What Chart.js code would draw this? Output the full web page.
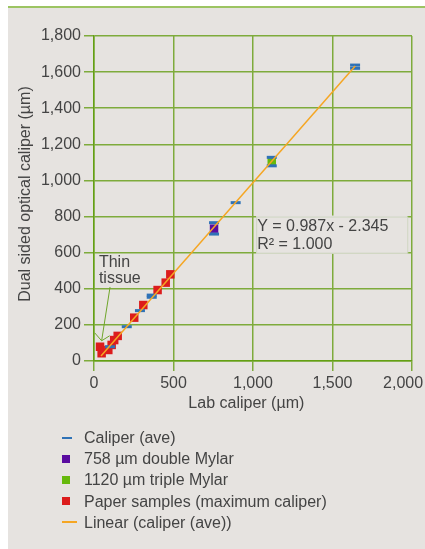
<!DOCTYPE html>
<html>
<head>
<meta charset="utf-8">
<script src="https://cdn.jsdelivr.net/npm/chart.js@4.4.0/dist/chart.umd.min.js"></script>
<style>
  body { margin: 0; background: #fff; font-family: "Liberation Sans", Arial, sans-serif; }
  #panel { position: absolute; left: 8px; top: 6px; width: 417px; height: 541px; background: #e6e3e0; border-top: 2px solid #9cc462; }
  #grafico { position: absolute; left: 0; top: 0; }
  #leyenda { position: absolute; left: 54px; top: 419px; margin: 0; padding: 0; list-style: none; }
  #leyenda li { height: 21.2px; line-height: 21.2px; font-size: 16px; color: #444; position: relative; padding-left: 22px; white-space: nowrap; }
  #leyenda .mk { position: absolute; left: 0; top: 50%; }
</style>
</head>
<body>
<div id="panel">
  <canvas id="grafico" width="417" height="541"></canvas>
  <ul id="leyenda"></ul>
</div>
<script>
// tick values
const xTicks = [0, 500, 1000, 1500, 2000];
const yTicks = [0, 200, 400, 600, 800, 1000, 1200, 1400, 1600, 1800];

// Caliper (ave) dashes
const caliperX = [101, 206, 289, 363, 363, 755, 755, 891, 1118, 1118, 1642, 1642];
const caliperY = [79, 190, 279, 365, 353, 766, 703, 877, 1128, 1081, 1639, 1621];

// Mylar references
const mylar758X = [755];
const mylar758Y = [733];
const mylar1120X = [1118];
const mylar1120Y = [1104];

// Paper samples (maximum caliper)
const paperX = [38, 48, 90, 111, 127, 149, 253, 310, 400, 451, 480];
const paperY = [79, 43, 61, 89, 116, 139, 240, 310, 393, 434, 480];

// Linear (caliper (ave)) trend ends
const trendX = [44, 1643];
const trendY = [28, 1634];

const ecuacion = ["Y = 0.987x - 2.345", "R\u00b2 = 1.000"];
const nota = ["Thin", "tissue"];

const colores = {
  caliper: "#2f72b6",
  mylar758: "#5a0ca0",
  mylar1120: "#66b90c",
  paper: "#dc1c1c",
  trend: "#f5a623",
  grid: "#7eab3c",
  texto: "#444",
  fondo: "#e6e3e0",
};

const fuente = { family: "'Liberation Sans', Arial, sans-serif", size: 16 };

function puntos(xs, ys) {
  return xs.map((x, i) => ({ x: x, y: ys[i] }));
}

// equation box + thin tissue arrow, placed in data units
const cajaEc = { x0: 1020, x1: 1970, y0: 600, y1: 800 };
const notaPos = { x: 31, y: 545, y2: 455 };
const flecha = { x0: 101, y0: 410, x1: 48, y1: 112 };

const extras = {
  id: "extras",
  beforeDatasetsDraw(chart) {
    const ctx = chart.ctx;
    const sx = chart.scales.x, sy = chart.scales.y;
    ctx.save();
    // equation box
    const bx0 = sx.getPixelForValue(cajaEc.x0), bx1 = sx.getPixelForValue(cajaEc.x1);
    const by0 = sy.getPixelForValue(cajaEc.y1), by1 = sy.getPixelForValue(cajaEc.y0);
    ctx.fillStyle = colores.fondo;
    ctx.fillRect(bx0, by0 - 1, bx1 - bx0, by1 - by0 + 2);
    ctx.strokeStyle = "#cfd6c2";
    ctx.lineWidth = 1;
    ctx.strokeRect(bx0 + 0.5, by0 + 0.5, bx1 - bx0, by1 - by0);
    ctx.fillStyle = colores.texto;
    ctx.font = "16px 'Liberation Sans', Arial, sans-serif";
    ctx.textBaseline = "middle";
    ctx.textAlign = "left";
    ctx.fillText(ecuacion[0], bx0 + 1, sy.getPixelForValue(744));
    ctx.fillText(ecuacion[1], bx0 + 1, sy.getPixelForValue(642));

    // thin tissue note
    const nx = sx.getPixelForValue(notaPos.x);
    ctx.fillText(nota[0], nx, sy.getPixelForValue(notaPos.y));
    ctx.fillText(nota[1], nx, sy.getPixelForValue(notaPos.y2));
    const ax0 = sx.getPixelForValue(flecha.x0), ay0 = sy.getPixelForValue(flecha.y0);
    const ax1 = sx.getPixelForValue(flecha.x1), ay1 = sy.getPixelForValue(flecha.y1);
    ctx.strokeStyle = "#6fa52a";
    ctx.lineWidth = 1;
    ctx.beginPath();
    ctx.moveTo(ax0, ay0);
    ctx.lineTo(ax1, ay1);
    ctx.moveTo(ax1 - 7, ay1 - 8);
    ctx.lineTo(ax1, ay1);
    ctx.lineTo(ax1 + 8, ay1 - 5);
    ctx.stroke();
    ctx.restore();
  },
};

const config = {
  type: "scatter",
  data: {
    datasets: [
      {
        label: "Caliper (ave)",
        data: puntos(caliperX, caliperY),
        pointStyle: "line",
        pointRadius: 5,
        borderWidth: 3,
        borderColor: colores.caliper,
        backgroundColor: colores.caliper,
        order: 1,
      },
      {
        label: "758 \u00b5m double Mylar",
        data: puntos(mylar758X, mylar758Y),
        pointStyle: "rect",
        pointRadius: 6,
        borderWidth: 0,
        backgroundColor: colores.mylar758,
        order: 2,
      },
      {
        label: "1120 \u00b5m triple Mylar",
        data: puntos(mylar1120X, mylar1120Y),
        pointStyle: "rect",
        pointRadius: 6,
        borderWidth: 0,
        backgroundColor: colores.mylar1120,
        order: 3,
      },
      {
        label: "Paper samples (maximum caliper)",
        data: puntos(paperX, paperY),
        pointStyle: "rect",
        pointRadius: 6,
        borderWidth: 0,
        backgroundColor: colores.paper,
        order: 4,
      },
      {
        type: "line",
        label: "Linear (caliper (ave))",
        data: puntos(trendX, trendY),
        borderColor: colores.trend,
        borderWidth: 1.5,
        pointRadius: 0,
        fill: false,
        order: 0,
      },
    ],
  },
  options: {
    responsive: false,
    animation: false,
    layout: { padding: { top: 28, right: 13, bottom: 128, left: 0 } },
    plugins: {
      legend: { display: false },
      tooltip: { enabled: false },
    },
    scales: {
      x: {
        type: "linear",
        min: 0,
        max: 2000,
        afterBuildTicks: (s) => { s.ticks = xTicks.map((v) => ({ value: v })); },
        afterFit: (s) => { s.height = 60; s.paddingLeft = 0; s.paddingRight = 0; },
        ticks: {
          font: fuente,
          color: colores.texto,
          padding: 3,
          maxRotation: 0,
          callback: (v) => (v === 2000 ? v.toLocaleString("en-US") + "    " : v.toLocaleString("en-US")),
        },
        grid: { color: colores.grid, lineWidth: 1.5, tickLength: 10 },
        border: { color: "#64a014", width: 1.5 },
        title: { display: true, text: "Lab caliper (\u00b5m)   ", font: fuente, color: colores.texto, padding: { top: 0, bottom: 8 } },
      },
      y: {
        type: "linear",
        min: 0,
        max: 1800,
        afterBuildTicks: (s) => { s.ticks = yTicks.map((v) => ({ value: v })); },
        afterFit: (s) => { s.width = 86; },
        ticks: {
          font: fuente,
          color: colores.texto,
          padding: 3,
          callback: (v) => v.toLocaleString("en-US"),
        },
        grid: { color: colores.grid, lineWidth: 1.5, tickLength: 10 },
        border: { color: "#64a014", width: 1.5 },
        title: { display: true, text: "  Dual sided optical caliper (\u00b5m)", font: fuente, color: colores.texto, padding: { top: 8, bottom: 0 } },
      },
    },
  },
  plugins: [extras],
};

const chart = new Chart(document.getElementById("grafico").getContext("2d"), config);

// legend as a vertical list
const marcas = {
  "Caliper (ave)": '<span class="mk" style="width:10px;height:2px;margin-top:-1px;background:' + colores.caliper + '"></span>',
  "758 \u00b5m double Mylar": '<span class="mk" style="width:8px;height:8px;margin-top:-4px;background:' + colores.mylar758 + '"></span>',
  "1120 \u00b5m triple Mylar": '<span class="mk" style="width:8px;height:8px;margin-top:-4px;background:' + colores.mylar1120 + '"></span>',
  "Paper samples (maximum caliper)": '<span class="mk" style="width:8px;height:8px;margin-top:-4px;background:' + colores.paper + '"></span>',
  "Linear (caliper (ave))": '<span class="mk" style="width:15px;height:2px;margin-top:-1px;background:' + colores.trend + '"></span>',
};
const lista = document.getElementById("leyenda");
chart.data.datasets.forEach((ds) => {
  const li = document.createElement("li");
  li.innerHTML = marcas[ds.label];
  li.appendChild(document.createTextNode(ds.label));
  lista.appendChild(li);
});
</script>
</body>
</html>
